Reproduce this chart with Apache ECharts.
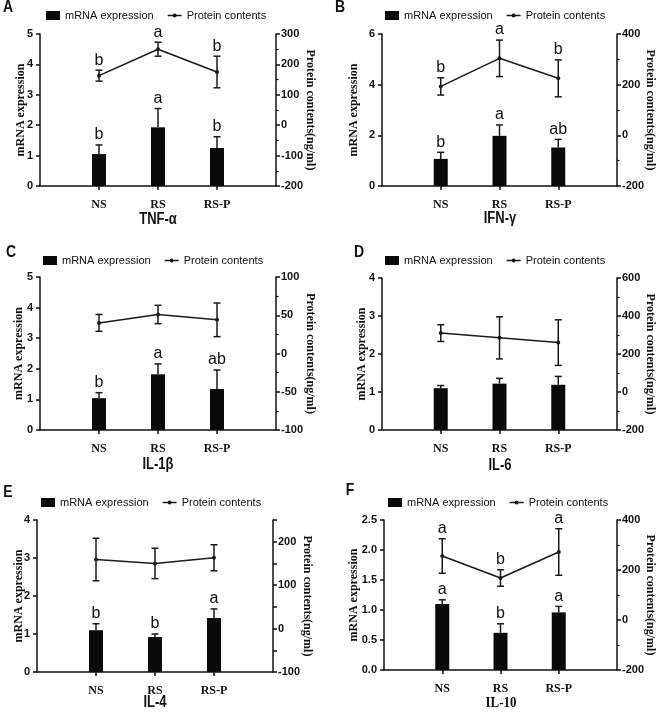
<!DOCTYPE html>
<html>
<head>
<meta charset="utf-8">
<script src="https://cdn.jsdelivr.net/npm/echarts@6/dist/echarts.min.js"></script>
<style>
html,body{margin:0;padding:0;background:#fff;}
#chart{width:657px;height:715px;}
</style>
</head>
<body>
<div id="chart"></div>
<script>
// ---------- data ----------
const categories = ['NS', 'RS', 'RS-P'];
const panelLetters = ['A', 'B', 'C', 'D', 'E', 'F'];
const cytokines = ['TNF-α', 'IFN-γ', 'IL-1β', 'IL-6', 'IL-4', 'IL-10'];

const mrnaTNF = [1.05, 1.93, 1.25];
const mrnaErrTNF = [0.30, 0.62, 0.37];
const proteinTNF = [163, 250, 175];
const proteinErrTNF = [18, 23, 52];
const lettersMrnaTNF = ['b', 'a', 'b'];
const lettersProteinTNF = ['b', 'a', 'b'];

const mrnaIFN = [1.07, 1.98, 1.52];
const mrnaErrIFN = [0.26, 0.43, 0.32];
const proteinIFN = [193, 304, 225];
const proteinErrIFN = [34, 72, 73];
const lettersMrnaIFN = ['b', 'a', 'ab'];
const lettersProteinIFN = ['b', 'a', 'b'];

const mrnaIL1b = [1.04, 1.82, 1.34];
const mrnaErrIL1b = [0.18, 0.34, 0.62];
const proteinIL1b = [40, 51, 44];
const proteinErrIL1b = [11, 12, 22];
const lettersMrnaIL1b = ['b', 'a', 'ab'];
const lettersProteinIL1b = ['', '', ''];

const mrnaIL6 = [1.10, 1.22, 1.19];
const mrnaErrIL6 = [0.07, 0.14, 0.22];
const proteinIL6 = [310, 285, 260];
const proteinErrIL6 = [44, 111, 120];
const lettersMrnaIL6 = ['', '', ''];
const lettersProteinIL6 = ['', '', ''];

const mrnaIL4 = [1.10, 0.92, 1.42];
const mrnaErrIL4 = [0.17, 0.08, 0.24];
const proteinIL4 = [159, 150, 163];
const proteinErrIL4 = [49, 35, 30];
const lettersMrnaIL4 = ['b', 'b', 'a'];
const lettersProteinIL4 = ['', '', ''];

const mrnaIL10 = [1.10, 0.62, 0.96];
const mrnaErrIL10 = [0.07, 0.15, 0.10];
const proteinIL10 = [256, 168, 272];
const proteinErrIL10 = [69, 33, 93];
const lettersMrnaIL10 = ['a', 'b', 'a'];
const lettersProteinIL10 = ['a', 'b', 'a'];

// axis ranges / tick labels
const leftMax = [5, 6, 5, 4, 4, 2.5];
const leftInterval = [1, 2, 1, 1, 1, 0.5];
const rightMin = [-200, -200, -100, -200, -100, -200];
const rightMax = [300, 400, 100, 600, 250, 400];
const rightInterval = [100, 200, 50, 200, 50, 200];
const rightLabelStep = [100, 200, 50, 200, 100, 200];

// ---------- layout ----------
const gridLeft = [40, 382, 40, 382, 37, 384];
const gridTop = [34, 34, 277, 278, 520, 520];
const gridWidth = [236, 236, 236, 236, 236, 234];
const gridHeight = [152, 152, 153, 152, 152, 150];
const titleY = [220, 219, 465, 466, 703, 703];
const letterPos = [[8, 8], [340, 8], [11, 253], [359, 253], [8, 493], [350, 491]];
const legendLeft = [46, 385, 43, 385, 41, 388];
const legendY = [17, 17, 262, 262, 504, 504];
const leftNameGap = [13, 22, 15, 14, 12, 24];
const rightNameGap = [28, 27, 28, 27, 28, 27];

const fontSans = "'Liberation Sans',Arial,Helvetica,sans-serif";
const fontSerif = "'Liberation Serif','Times New Roman',serif";
const ink = '#111';

const panels = [
  [mrnaTNF, mrnaErrTNF, proteinTNF, proteinErrTNF, lettersMrnaTNF, lettersProteinTNF],
  [mrnaIFN, mrnaErrIFN, proteinIFN, proteinErrIFN, lettersMrnaIFN, lettersProteinIFN],
  [mrnaIL1b, mrnaErrIL1b, proteinIL1b, proteinErrIL1b, lettersMrnaIL1b, lettersProteinIL1b],
  [mrnaIL6, mrnaErrIL6, proteinIL6, proteinErrIL6, lettersMrnaIL6, lettersProteinIL6],
  [mrnaIL4, mrnaErrIL4, proteinIL4, proteinErrIL4, lettersMrnaIL4, lettersProteinIL4],
  [mrnaIL10, mrnaErrIL10, proteinIL10, proteinErrIL10, lettersMrnaIL10, lettersProteinIL10]
];

const grids = [], xAxes = [], yAxes = [], series = [], legends = [], graphics = [];
const seriesLetters = {};

function errRender(onlyUp) {
  return function (params, api) {
    const x = api.value(0);
    const lo = api.value(1);
    const hi = api.value(2);
    const pHi = api.coord([x, hi]);
    const pLo = api.coord([x, lo]);
    const cap = 3.5;
    const st = { stroke: '#1a1a1a', lineWidth: 1.5 };
    const children = [
      { type: 'line', shape: { x1: pHi[0], y1: pHi[1], x2: pLo[0], y2: pLo[1] }, style: st },
      { type: 'line', shape: { x1: pHi[0] - cap, y1: pHi[1], x2: pHi[0] + cap, y2: pHi[1] }, style: st }
    ];
    if (!onlyUp) {
      children.push({ type: 'line', shape: { x1: pLo[0] - cap, y1: pLo[1], x2: pLo[0] + cap, y2: pLo[1] }, style: st });
    }
    return { type: 'group', children: children };
  };
}

function letterRender(params, api) {
  const x = api.value(0);
  const y = api.value(1);
  const txt = seriesLetters[params.seriesIndex][params.dataIndex];
  const p = api.coord([x, y]);
  return {
    type: 'text',
    x: p[0], y: p[1] - 2,
    style: {
      text: txt, fill: ink, font: '16px ' + fontSans,
      align: 'center', verticalAlign: 'bottom'
    }
  };
}

panels.forEach((pd, k) => {
  const [mrna, mErr, prot, pErr, lm, lp] = pd;
  grids.push({ left: gridLeft[k], top: gridTop[k], width: gridWidth[k], height: gridHeight[k] });
  xAxes.push({
    type: 'value', gridIndex: k, min: -1, max: 3,
    axisLine: { show: true, onZero: false, lineStyle: { color: ink, width: 1.5 } },
    axisTick: { show: true, customValues: [0, 1, 2], length: 4, lineStyle: { color: ink, width: 1.5 } },
    axisLabel: {
      customValues: [0, 1, 2], formatter: v => categories[v] || '',
      color: ink, fontFamily: fontSerif, fontWeight: 'bold', fontSize: 12, margin: 13
    },
    splitLine: { show: false }
  });
  yAxes.push({
    type: 'value', gridIndex: k, position: 'left', min: 0, max: leftMax[k], interval: leftInterval[k],
    name: 'mRNA expression', nameLocation: 'middle', nameRotate: 90, nameGap: leftNameGap[k],
    nameMoveOverlap: false,
    nameTextStyle: { fontFamily: fontSerif, fontWeight: 'bold', fontSize: 12, color: ink },
    axisLine: { show: true, onZero: false, lineStyle: { color: ink, width: 1.5 } },
    axisTick: { show: true, length: 4, lineStyle: { color: ink, width: 1.5 } },
    axisLabel: {
      color: ink, fontFamily: fontSans, fontWeight: 'bold', fontSize: 11, margin: 7,
      formatter: v => (k === 5 ? v.toFixed(1) : String(v))
    },
    splitLine: { show: false }
  });
  const useMinor = rightInterval[k] === rightLabelStep[k];
  yAxes.push({
    type: 'value', gridIndex: k, position: 'right', min: rightMin[k], max: rightMax[k], interval: rightInterval[k],
    name: 'Protein contents(ng/ml)', nameLocation: 'middle', nameRotate: -90, nameGap: rightNameGap[k],
    nameMoveOverlap: false,
    nameTextStyle: { fontFamily: fontSerif, fontWeight: 'bold', fontSize: 12, color: ink },
    axisLine: { show: true, onZero: false, lineStyle: { color: ink, width: 1.5 } },
    axisTick: { show: true, length: 4, lineStyle: { color: ink, width: 1.5 } },
    minorTick: { show: useMinor, splitNumber: 2, length: 2.5, lineStyle: { color: ink, width: 1.2 } },
    axisLabel: {
      color: ink, fontFamily: fontSans, fontWeight: 'bold', fontSize: 11, margin: 5,
      formatter: v => (Math.abs(v % rightLabelStep[k]) < 1e-9 ? String(v) : '')
    },
    splitLine: { show: false }
  });
  const ly = 2 * k, ry = 2 * k + 1;
  series.push({
    name: 'mRNA expression', type: 'bar', xAxisIndex: k, yAxisIndex: ly, barWidth: 14,
    itemStyle: { color: '#0a0a0a' },
    data: categories.map((c, i) => [i, mrna[i]]), z: 2
  });
  series.push({
    type: 'custom', xAxisIndex: k, yAxisIndex: ly, renderItem: errRender(true), z: 3,
    data: categories.map((c, i) => [i, mrna[i], mrna[i] + mErr[i]])
  });
  series.push({
    name: 'Protein contents', type: 'line', xAxisIndex: k, yAxisIndex: ry,
    symbol: 'circle', symbolSize: 4, itemStyle: { color: '#1a1a1a' },
    lineStyle: { color: '#1a1a1a', width: 1.5 },
    data: categories.map((c, i) => [i, prot[i]]), z: 4
  });
  series.push({
    type: 'custom', xAxisIndex: k, yAxisIndex: ry, renderItem: errRender(false), z: 4,
    data: categories.map((c, i) => [i, prot[i] - pErr[i], prot[i] + pErr[i]])
  });
  seriesLetters[series.length] = lm;
  series.push({
    type: 'custom', xAxisIndex: k, yAxisIndex: ly, renderItem: letterRender, z: 5,
    data: categories.map((c, i) => [i, mrna[i] + mErr[i]])
  });
  seriesLetters[series.length] = lp;
  series.push({
    type: 'custom', xAxisIndex: k, yAxisIndex: ry, renderItem: letterRender, z: 5,
    data: categories.map((c, i) => [i, prot[i] + pErr[i]])
  });

  legends.push({
    left: legendLeft[k], top: legendY[k] - 7, orient: 'horizontal',
    itemWidth: 14, itemHeight: 9, itemGap: 14, selectedMode: false, padding: 0,
    textStyle: { fontFamily: fontSans, fontSize: 11, color: ink },
    data: [
      { name: 'mRNA expression', icon: 'rect', itemStyle: { color: '#0a0a0a' } },
      { name: 'Protein contents', icon: 'path://M0,3.8 L14,3.8 L14,5.2 L0,5.2 Z M7,2.5 A2,2 0 1,1 7,6.5 A2,2 0 1,1 7,2.5 Z', itemStyle: { color: '#1a1a1a' } }
    ]
  });

  graphics.push({
    type: 'text', x: gridLeft[k] + gridWidth[k] / 2, y: titleY[k],
    scaleY: k === 5 ? 1.1 : 1.25,
    style: {
      text: cytokines[k], fill: ink,
      font: k === 5 ? 'bold 13px ' + fontSerif : 'bold 13px ' + fontSans,
      align: 'center', verticalAlign: 'middle'
    }
  });
  graphics.push({
    type: 'text', x: letterPos[k][0], y: letterPos[k][1],
    scaleY: 1.15,
    style: {
      text: panelLetters[k], fill: ink, font: 'bold 14px ' + fontSans,
      align: 'center', verticalAlign: 'middle'
    }
  });
});

const chart = echarts.init(document.getElementById('chart'), null, { renderer: 'canvas' });
chart.setOption({
  animation: false,
  backgroundColor: '#fff',
  grid: grids,
  xAxis: xAxes,
  yAxis: yAxes,
  legend: legends,
  series: series,
  graphic: graphics
});
</script>
</body>
</html>
